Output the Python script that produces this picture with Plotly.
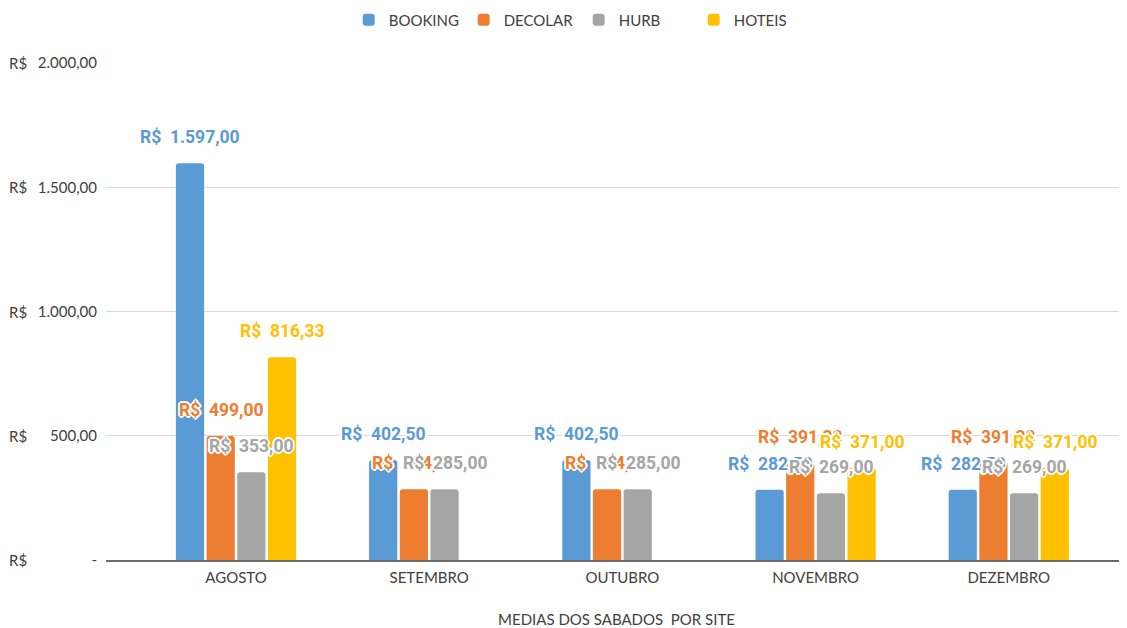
import plotly.graph_objects as go

meses = ["AGOSTO", "SETEMBRO", "OUTUBRO", "NOVEMBRO", "DEZEMBRO"]
sites = ["BOOKING", "DECOLAR", "HURB", "HOTEIS"]
booking = [1597.00, 402.50, 402.50, 282.50, 282.50]
decolar = [499.00, 284.50, 284.50, 391.33, 391.33]
hurb = [353.00, 285.00, 285.00, 269.00, 269.00]
hoteis = [816.33, None, None, 371.00, 371.00]
cores = ["#5B9BD5", "#ED7D31", "#A5A5A5", "#FFC000"]

y_ticks = [0, 500, 1000, 1500, 2000]
y_ticktext = ["-", "500,00", "1.000,00", "1.500,00", "2.000,00"]


def brl(v):
    s = f"{v:,.2f}".replace(",", "X").replace(".", ",").replace("X", ".")
    return "R$\u00a0\u00a0" + s


series = [booking, decolar, hurb, hoteis]

fig = go.Figure()
for nome, vals, cor in zip(sites, series, cores):
    fig.add_trace(go.Bar(x=meses, y=vals, name=nome,
                         marker=dict(color=cor, cornerradius=3, line=dict(width=0))))

# rotulos acima das barras (por cima de todas as barras)
passo = 30.7
sombra = ("-1px -1px 0 #fff, 1px -1px 0 #fff, -1px 1px 0 #fff, 1px 1px 0 #fff, "
          "0 -2px 0 #fff, 0 2px 0 #fff, -2px 0 0 #fff, 2px 0 0 #fff")
for i, (vals, cor) in enumerate(zip(series, cores)):
    for mes, v in zip(meses, vals):
        if v is None:
            continue
        fig.add_annotation(x=mes, y=v, text=brl(v), showarrow=False,
                           xshift=(i - 1.5) * passo, yshift=26,
                           font=dict(family="Roboto", size=17.5, color=cor,
                                     weight="bold", shadow=sombra))

# simbolo da moeda alinhado a esquerda (formato contabil)
for t in y_ticks:
    fig.add_annotation(xref="paper", x=-0.097, xanchor="left", y=t, text="R$",
                       showarrow=False, font=dict(family="Lato", size=15, color="#404040"))

# a pagina tem 8px de margem no body: figura um pouco menor que a janela
fig.update_layout(
    width=1119, height=620,
    margin=dict(l=98, r=0, t=55, b=68),
    paper_bgcolor="white", plot_bgcolor="white",
    barmode="group", bargap=0.365, bargroupgap=0.08,
    font=dict(family="Lato", size=15, color="#404040"),
    legend=dict(orientation="h", xref="container", x=0.51, xanchor="center",
                yref="container", y=1 - 12 / 620, yanchor="middle", entrywidth=70,
                font=dict(size=15, color="#404040")),
    showlegend=True,
)
fig.update_xaxes(range=[-0.673, 4.612], showline=True, linecolor="#6b6b6b",
                 linewidth=2, ticks="", showgrid=False, automargin=False,
                 ticklabelstandoff=3,
                 title=dict(text="MEDIAS DOS SABADOS\u00a0\u00a0POR SITE", standoff=31,
                            font=dict(size=15, color="#404040")))
fig.update_yaxes(range=[0, 2000], tickvals=y_ticks, ticktext=y_ticktext,
                 showgrid=True, gridcolor="#d9d9d9", gridwidth=1, automargin=False,
                 zeroline=False, ticks="", ticklabelstandoff=8)

fig.write_html("out.html")
